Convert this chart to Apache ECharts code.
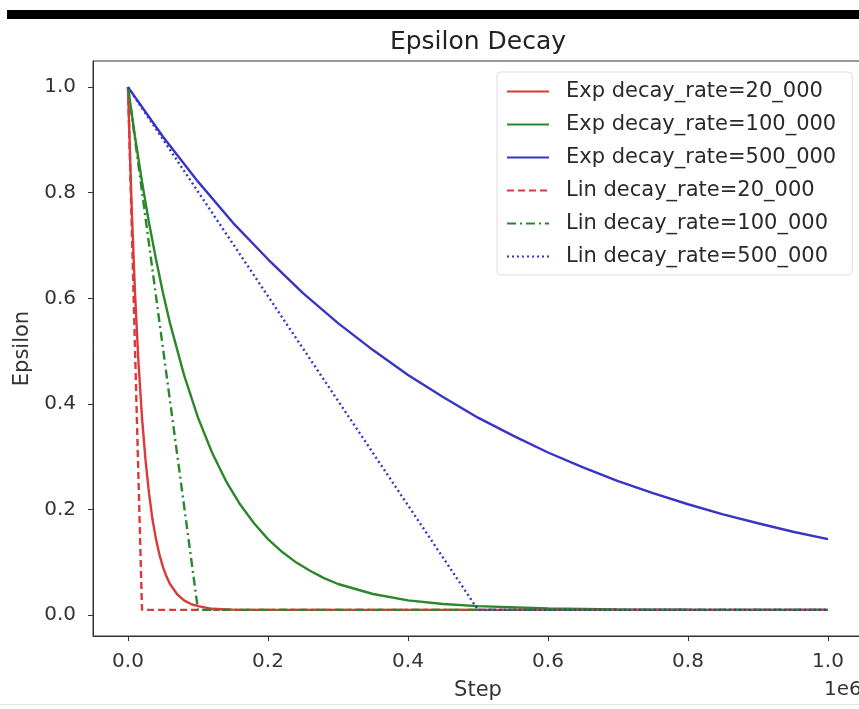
<!DOCTYPE html>
<html><head><meta charset="utf-8">
<script src="https://cdn.jsdelivr.net/npm/echarts@6/dist/echarts.min.js"></script>
<style>html,body{margin:0;padding:0;background:#fff}#c{width:859px;height:709px}</style>
</head><body><div id="c"></div>
<script>
const seriesNames = ['Exp decay_rate=20_000','Exp decay_rate=100_000','Exp decay_rate=500_000','Lin decay_rate=20_000','Lin decay_rate=100_000','Lin decay_rate=500_000'];
const xTicks = [0, 200000, 400000, 600000, 800000, 1000000];
const yTicks = [0, 0.2, 0.4, 0.6, 0.8, 1.0];
const exp20k = [[0,1.0],[5000,0.781],[10000,0.610],[15000,0.478],[20000,0.374],[25000,0.294],[30000,0.231],[35000,0.181],[40000,0.144],[45000,0.114],[50000,0.091],[55000,0.073],[60000,0.059],[70000,0.040],[80000,0.028],[90000,0.021],[100000,0.017],[120000,0.012],[150000,0.0105],[200000,0.010],[1000000,0.010]];
const exp100k = [[0,1.0],[10000,0.906],[20000,0.821],[30000,0.743],[40000,0.674],[50000,0.610],[60000,0.553],[80000,0.455],[100000,0.374],[120000,0.308],[140000,0.254],[160000,0.210],[180000,0.174],[200000,0.144],[220000,0.120],[240000,0.100],[260000,0.084],[280000,0.070],[300000,0.059],[350000,0.040],[400000,0.028],[450000,0.021],[500000,0.017],[600000,0.0125],[700000,0.0109],[800000,0.0103],[1000000,0.010]];
const exp500k = [[0,1.0],[50000,0.906],[100000,0.821],[150000,0.743],[200000,0.674],[250000,0.610],[300000,0.553],[350000,0.502],[400000,0.455],[450000,0.413],[500000,0.374],[550000,0.340],[600000,0.308],[650000,0.280],[700000,0.254],[750000,0.231],[800000,0.210],[850000,0.191],[900000,0.174],[950000,0.158],[1000000,0.144]];
const lin20k = [[0,1.0],[20000,0.010],[1000000,0.010]];
const lin100k = [[0,1.0],[100000,0.010],[1000000,0.010]];
const lin500k = [[0,1.0],[500000,0.010],[1000000,0.010]];

const RED='#dc3a3a', GREEN='#2a872a', BLUE='#3834c4';
const F='DejaVu Sans';
const chart = echarts.init(document.getElementById('c'), null, {renderer:'canvas'});
function mk(name, data, color, type){
  return {name, type:'line', data, symbol:'none', smooth:false, animation:false,
    lineStyle:{color, width:2.4, type}, itemStyle:{color}};
}
chart.setOption({
  animation:false,
  backgroundColor:'#fff',
  title:{text:'Epsilon Decay', left:473, top:25, textAlign:'center',
    textStyle:{fontFamily:F, fontSize:25, fontWeight:'normal', color:'#222'}},
  grid:{left:93, top:61, right:-4, bottom:73, show:true, borderColor:'#333', borderWidth:1,
    containLabel:false, outerBoundsMode:'none'},
  xAxis:{type:'value', min:-50000, max:1050000,
    axisLine:{show:true, onZero:false, lineStyle:{color:'#333'}},
    splitLine:{show:false},
    axisTick:{show:true, length:5, customValues:xTicks, lineStyle:{color:'#333'}},
    axisLabel:{customValues:xTicks, fontFamily:F, fontSize:20, color:'#333', margin:16,
      formatter:v=>(v/1e6).toFixed(1)},
    name:'Step', nameLocation:'middle', nameGap:44,
    nameTextStyle:{fontFamily:F, fontSize:21, color:'#333'}},
  yAxis:{type:'value', min:-0.0395, max:1.0495,
    axisLine:{show:true, onZero:false, lineStyle:{color:'#333'}},
    splitLine:{show:false},
    axisTick:{show:true, length:5, customValues:yTicks, lineStyle:{color:'#333'}},
    axisLabel:{customValues:yTicks, fontFamily:F, fontSize:20, color:'#333', margin:17,
      formatter:v=>v.toFixed(1)},
    name:'Epsilon', nameLocation:'middle', nameGap:52, nameRotate:90,
    nameTextStyle:{fontFamily:F, fontSize:21, color:'#333'}},
  legend:{orient:'vertical', left:497, top:72, itemWidth:42, itemHeight:14, itemGap:12,
    padding:[9,16,8,9], borderColor:'#ddd', borderWidth:1, borderRadius:4,
    backgroundColor:'rgba(255,255,255,0.85)',
    itemStyle:{opacity:0},
    textStyle:{fontFamily:F, fontSize:21, color:'#2a2a2a', padding:[0,0,0,12]},
    data:seriesNames},
  graphic:[
    {type:'rect', left:7, top:10, shape:{width:852, height:9}, style:{fill:'#000'}},
    {type:'text', left:824, top:680, style:{text:'1e6', font:'20px "DejaVu Sans"', fill:'#333'}},
    {type:'rect', left:0, top:704, shape:{width:859, height:1}, style:{fill:'#e4e4e4'}}
  ],
  series:[
    mk(seriesNames[0], exp20k, RED, 'solid'),
    mk(seriesNames[1], exp100k, GREEN, 'solid'),
    mk(seriesNames[2], exp500k, BLUE, 'solid'),
    mk(seriesNames[3], lin20k, RED, [7,4]),
    mk(seriesNames[4], lin100k, GREEN, [9,4,2,4]),
    mk(seriesNames[5], lin500k, BLUE, [2,3])
  ]
});
</script></body></html>
